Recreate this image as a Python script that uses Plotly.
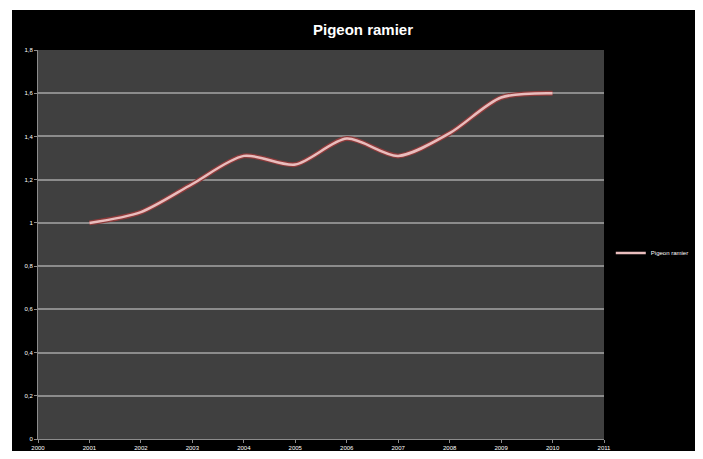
import plotly.graph_objects as go

years = [2001, 2002, 2003, 2004, 2005, 2006, 2007, 2008, 2009, 2010]
values = [1.00, 1.05, 1.18, 1.31, 1.27, 1.39, 1.31, 1.415, 1.58, 1.60]
x_ticks = list(range(2000, 2012))
y_ticks = [0, 0.2, 0.4, 0.6, 0.8, 1.0, 1.2, 1.4, 1.6, 1.8]
y_labels = ["0", "0,2", "0,4", "0,6", "0,8", "1", "1,2", "1,4", "1,6", "1,8"]
series_name = "Pigeon ramier"

# page body has an 8px margin on every side; figure sized so the page fits the window
W, H = 687, 443
ml, mr, mt, mb = 30, 91, 42, 12
pw, ph = W - ml - mr, H - mt - mb

fig = go.Figure()
fig.add_trace(go.Scatter(x=years, y=values, mode="lines", showlegend=False,
                         line=dict(color="#8e3b3b", width=5, shape="spline", smoothing=0.8),
                         hoverinfo="skip"))
fig.add_trace(go.Scatter(x=years, y=values, mode="lines", name=series_name,
                         line=dict(color="#e9bdbd", width=2.5, shape="spline", smoothing=0.8)))

# black chart area with a thin white strip at top/left
fig.add_shape(type="rect", xref="paper", yref="paper", layer="below",
              x0=(4 - ml) / pw, x1=(W - ml) / pw + 0.01,
              y0=-mb / ph - 0.01, y1=(H - 2 - mb) / ph,
              fillcolor="black", line=dict(width=0))
fig.add_shape(type="rect", xref="paper", yref="paper", layer="below",
              x0=0, x1=1, y0=0, y1=1,
              fillcolor="#404040", line=dict(width=0))

fig.update_layout(
    width=W, height=H,
    margin=dict(l=ml, r=mr, t=mt, b=mb, autoexpand=False),
    paper_bgcolor="white",
    plot_bgcolor="#404040",
    title=dict(text="<b>Pigeon ramier</b>", x=355 / W, xanchor="center", y=1 - 22 / H, yanchor="middle",
               font=dict(family="Liberation Sans, Arial", size=15, color="white")),
    font=dict(family="Liberation Sans, Arial", size=6, color="white"),
    showlegend=True,
    legend=dict(x=1.012, y=0.478, xanchor="left", yanchor="middle", bgcolor="rgba(0,0,0,0)",
                font=dict(size=6, color="white"), itemwidth=30),
    xaxis=dict(range=[2000, 2011], tickvals=x_ticks, ticktext=[str(t) for t in x_ticks],
               showgrid=False, zeroline=False, showline=True, linecolor="#8c8c8c", linewidth=1,
               ticks="outside", ticklen=3, tickcolor="#8c8c8c", automargin=False,
               tickfont=dict(size=6, color="white")),
    yaxis=dict(range=[0, 1.8], tickvals=y_ticks, ticktext=y_labels,
               showgrid=True, gridcolor="#8c8c8c", gridwidth=1.5, zeroline=False,
               showline=True, linecolor="#8c8c8c", linewidth=1,
               ticks="outside", ticklen=3, tickcolor="#8c8c8c", automargin=False,
               tickfont=dict(size=6, color="white")),
)

fig.write_html("out.html")
